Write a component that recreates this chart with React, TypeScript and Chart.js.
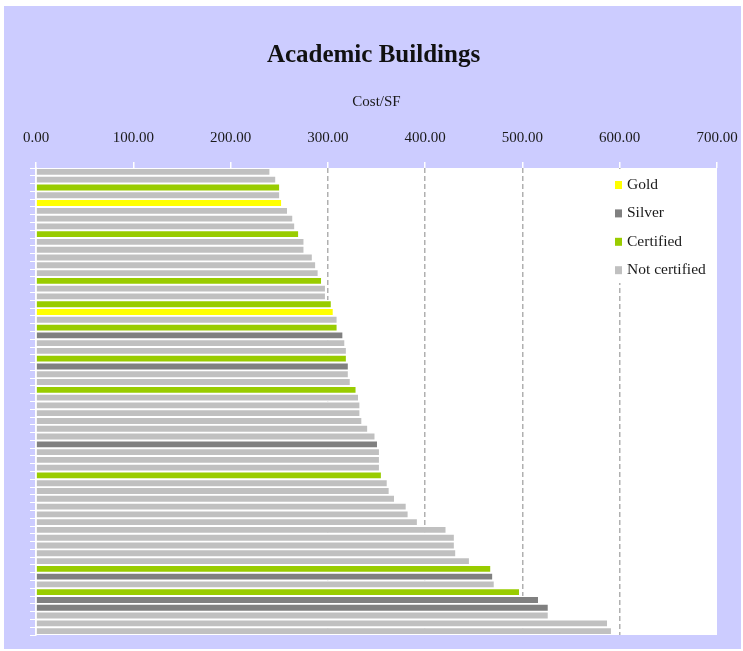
import React, { useEffect, useRef } from 'react';
import { Chart, registerables } from 'chart.js';

Chart.register(...registerables);

// Cost per square foot for each academic building (sorted ascending)
const costPerSF: number[] = [
  240, 246, 250, 250, 252, 258, 263.5, 265.5, 269.5, 275,
  275, 283.5, 287, 289.5, 293, 297, 297, 303, 305, 309,
  309, 315, 317, 318.5, 318.5, 320.5, 320.5, 322.5, 328.5, 331,
  332.5, 332.5, 334.5, 340.5, 348, 350.5, 352.5, 352.5, 352.5, 354.5,
  360.5, 362.5, 368, 380, 382, 391.5, 421, 429.5, 429.5, 431,
  445, 467, 469, 470.5, 496.5, 516, 526, 526, 587, 591,
];

// Certification level per building: G = Gold, S = Silver, C = Certified, N = Not certified
const certification: string[] = [
  'N', 'N', 'C', 'N', 'G', 'N', 'N', 'N', 'C', 'N',
  'N', 'N', 'N', 'N', 'C', 'N', 'N', 'C', 'G', 'N',
  'C', 'S', 'N', 'N', 'C', 'S', 'N', 'N', 'C', 'N',
  'N', 'N', 'N', 'N', 'N', 'S', 'N', 'N', 'N', 'C',
  'N', 'N', 'N', 'N', 'N', 'N', 'N', 'N', 'N', 'N',
  'N', 'C', 'S', 'N', 'C', 'S', 'S', 'N', 'N', 'N',
];

const buildings: string[] = costPerSF.map((_, i) => `Building ${i + 1}`);

const levelCodes: string[] = ['G', 'S', 'C', 'N'];
const levelNames: string[] = ['Gold', 'Silver', 'Certified', 'Not certified'];
const levelColors: string[] = ['#ffff00', '#808080', '#99cc00', '#c0c0c0'];

const xMin = 0;
const xMax = 700;
const xStep = 100;
const dashedGridValues: number[] = [300, 400, 500, 600];

const chartTitle = 'Academic Buildings';
const axisTitle = 'Cost/SF';

const FONT = '"Liberation Serif", "DejaVu Serif", serif';

const plotBackground = {
  id: 'plotBackground',
  beforeDraw(chart: any) {
    const { ctx, chartArea } = chart;
    ctx.save();
    ctx.fillStyle = '#ffffff';
    ctx.fillRect(chartArea.left, chartArea.top, chartArea.right - chartArea.left, chartArea.bottom - chartArea.top);
    ctx.restore();
  },
};

const insideLegend = {
  id: 'insideLegend',
  afterDatasetsDraw(chart: any) {
    const { ctx, chartArea } = chart;
    const x0 = chartArea.right - 102;
    ctx.save();
    ctx.fillStyle = '#ffffff';
    ctx.fillRect(x0 - 8, chartArea.top + 1, 108, 114);
    ctx.font = `15.5px ${FONT}`;
    ctx.textBaseline = 'middle';
    ctx.textAlign = 'left';
    levelNames.forEach((name, i) => {
      const y = chartArea.top + 17 + i * 28.4;
      ctx.fillStyle = levelColors[i];
      ctx.fillRect(x0, y - 4, 7, 8);
      ctx.fillStyle = '#1a1a1a';
      ctx.fillText(name, x0 + 12, y);
    });
    ctx.restore();
  },
};

export default function App() {
  const canvasRef = useRef<HTMLCanvasElement | null>(null);

  useEffect(() => {
    if (!canvasRef.current) return;
    const datasets = levelCodes.map((code, li) => ({
      label: levelNames[li],
      data: costPerSF.map((v, i) => (certification[i] === code ? v : null)),
      backgroundColor: levelColors[li],
      borderColor: '#ffffff',
      borderWidth: { top: 1.3, bottom: 1.3, left: 0, right: 0 },
      borderSkipped: false as any,
      barPercentage: 1,
      categoryPercentage: 1,
      grouped: false,
    }));

    const chart = new Chart(canvasRef.current, {
      type: 'bar',
      data: { labels: buildings, datasets: datasets as any },
      plugins: [plotBackground, insideLegend],
      options: {
        indexAxis: 'y',
        animation: false,
        responsive: false,
        devicePixelRatio: 1,
        layout: { padding: { top: 0, left: 26, right: 24, bottom: 14 } },
        plugins: {
          legend: { display: false },
          tooltip: { enabled: false },
          title: {
            display: true,
            text: chartTitle,
            color: '#111111',
            font: { family: FONT, size: 25, weight: 'bold' },
            padding: { top: 35, bottom: 14 },
          },
        },
        scales: {
          x: {
            position: 'top',
            min: xMin,
            max: xMax,
            afterFit: (scale: any) => {
              scale.paddingLeft = 0;
              scale.paddingRight = 0;
            },
            ticks: {
              stepSize: xStep,
              callback: (v: any) => Number(v).toFixed(2),
              color: '#1a1a1a',
              font: { family: FONT, size: 15 },
              padding: 15,
              maxRotation: 0,
            },
            grid: {
              color: (ctx: any) =>
                ctx.tick && dashedGridValues.includes(ctx.tick.value) ? '#b0b0b0' : 'rgba(0,0,0,0)',
              lineWidth: 1.5,
              tickColor: '#ffffff',
              tickLength: 6,
              tickWidth: 1.5,
            },
            border: { display: false, dash: [5, 3] },
            title: {
              display: true,
              text: axisTitle,
              color: '#1a1a1a',
              font: { family: FONT, size: 15 },
              padding: { top: 8, bottom: 3 },
            },
          },
          y: {
            type: 'category',
            ticks: { display: false },
            grid: {
              drawOnChartArea: false,
              color: '#ffffff',
              tickColor: '#ffffff',
              tickLength: 6,
              offset: true,
              lineWidth: 1,
            },
            border: { display: true, color: '#ffffff', width: 1.5 },
          },
        },
      } as any,
    });
    return () => chart.destroy();
  }, []);

  return (
    <div
      style={{
        position: 'absolute',
        left: 4,
        top: 6,
        width: 737,
        height: 643,
        background: '#ccccff',
      }}
    >
      <canvas ref={canvasRef} width={737} height={643} style={{ display: 'block' }} />
    </div>
  );
}
